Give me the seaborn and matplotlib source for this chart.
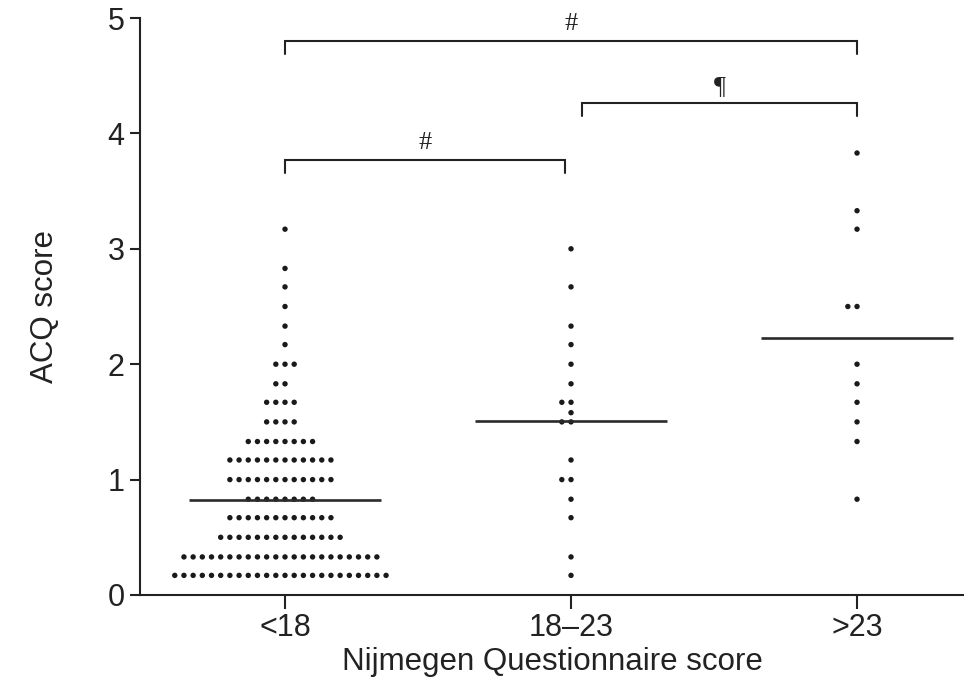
import matplotlib
matplotlib.use("Agg")
import matplotlib.pyplot as plt
import seaborn as sns
import pandas as pd
import numpy as np

# ---- data ----
categories = ["<18", "18–23", ">23"]

# group <18: ACQ value -> number of patients at that value
low_values = [3.17, 2.83, 2.67, 2.50, 2.33, 2.17, 2.00, 1.83, 1.67, 1.50,
              1.33, 1.17, 1.00, 0.83, 0.67, 0.50, 0.33, 0.17]
low_counts = [1, 1, 1, 1, 1, 1, 3, 2, 4, 4,
              8, 12, 12, 8, 12, 14, 22, 24]

mid_values = [3.00, 2.67, 2.33, 2.17, 2.00, 1.83, 1.67, 1.67, 1.58, 1.50, 1.50,
              1.17, 1.00, 1.00, 0.83, 0.67, 0.33, 0.17]

high_values = [3.83, 3.33, 3.17, 2.50, 2.50, 2.00, 1.83, 1.67, 1.50, 1.33, 0.83]

# significance brackets: (left category, right category, y, label)
brackets = [(0, 2, 4.80, "#"), (1.04, 2, 4.26, "¶"), (0, 0.98, 3.77, "#")]

low_all = np.repeat(low_values, low_counts)
df = pd.DataFrame({
    "group": (["<18"] * len(low_all) + ["18–23"] * len(mid_values)
              + [">23"] * len(high_values)),
    "acq": np.concatenate([low_all, mid_values, high_values]),
})

sns.set_theme(style="ticks")
plt.rcParams["font.family"] = ["Liberation Sans", "DejaVu Sans"]

fig = plt.figure(figsize=(9.64, 6.85), dpi=100)
ax = fig.add_axes([140 / 964, 1 - 595 / 685, 1 - 140 / 964, (595 - 18) / 685])

dark = "#222222"
sns.swarmplot(data=df, x="group", y="acq", order=categories, ax=ax,
              color="#1a1a1a", size=3.9, edgecolor="none", linewidth=2.4,
              warn_thresh=1.0)

means = df.groupby("group")["acq"].mean().reindex(categories)
for i, m in enumerate(means.values):
    ax.hlines(m, i - 0.335, i + 0.335, color="#2a2a2a", lw=1.9, zorder=5)

for x0, x1, y, lab in brackets:
    leg = 0.11
    ax.plot([x0, x0, x1, x1], [y - leg, y, y, y - leg], color=dark, lw=1.5,
            clip_on=False, solid_joinstyle="miter")
    ax.text((x0 + x1) / 2, y + 0.05, lab, ha="center", va="bottom",
            fontsize=19, family=["Liberation Serif", "DejaVu Serif"],
            color=dark, clip_on=False)

ax.set_ylim(0, 5)
ax.set_xlim(-0.507, 2.374)
ax.set_yticks([0, 1, 2, 3, 4, 5])
ax.set_xlabel("Nijmegen Questionnaire score", fontsize=22.5, color=dark,
              labelpad=3)
ax.set_ylabel("ACQ score", fontsize=22.5, color=dark, labelpad=34)
ax.tick_params(axis="both", labelsize=22, colors=dark, width=1.5)
ax.tick_params(axis="y", length=7, pad=4)
ax.tick_params(axis="x", length=10, pad=3)
for s in ["top", "right"]:
    ax.spines[s].set_visible(False)
for s in ["left", "bottom"]:
    ax.spines[s].set_linewidth(1.5)
    ax.spines[s].set_color(dark)

fig.savefig("out.png", dpi=100)
